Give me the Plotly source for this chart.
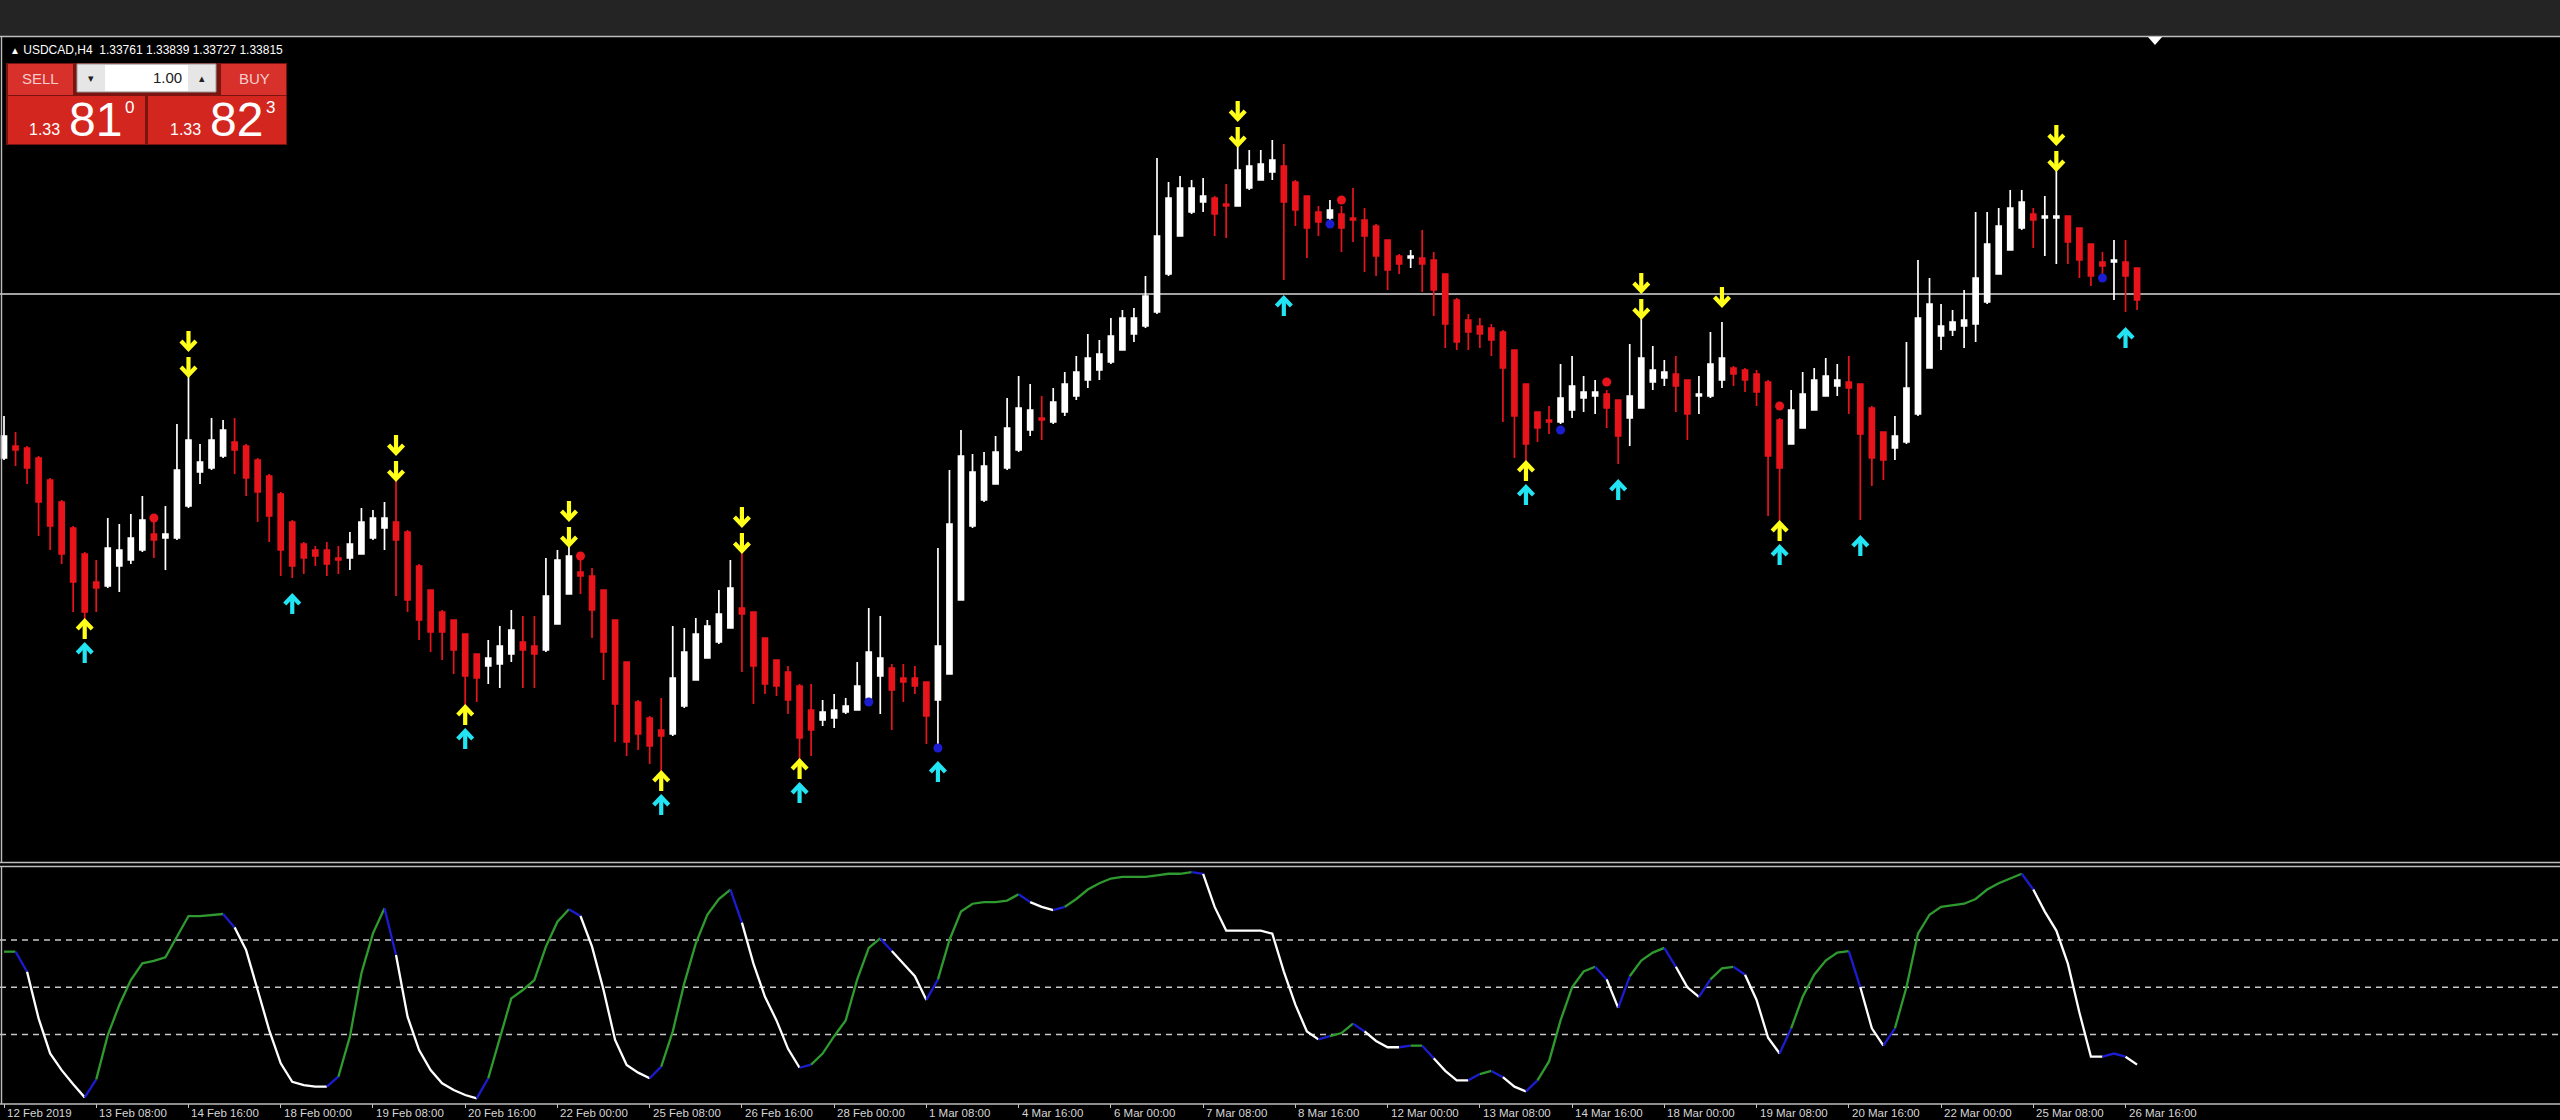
import numpy as np
import plotly.graph_objects as go

W, H = 2560, 1120

# ---------------- data ----------------
symbol_header = "USDCAD,H4\u00a0\u00a01.33761 1.33839 1.33727 1.33815"
sell_price = ("1.33", "81", "0")
buy_price = ("1.33", "82", "3")
lot_size = "1.00"
bid_level = 1.3381

tick_bars = [0, 8, 16, 24, 32, 40, 48, 56, 64, 72, 80, 88, 96, 104, 112, 120,
             128, 136, 144, 152, 160, 168, 176, 184]
tick_labels = ["12 Feb 2019", "13 Feb 08:00", "14 Feb 16:00", "18 Feb 00:00", "19 Feb 08:00",
               "20 Feb 16:00", "22 Feb 00:00", "25 Feb 08:00", "26 Feb 16:00", "28 Feb 00:00",
               "1 Mar 08:00", "4 Mar 16:00", "6 Mar 00:00", "7 Mar 08:00", "8 Mar 16:00",
               "12 Mar 00:00", "13 Mar 08:00", "14 Mar 16:00", "18 Mar 00:00", "19 Mar 08:00",
               "20 Mar 16:00", "22 Mar 00:00", "25 Mar 08:00", "26 Mar 16:00"]

# prices in pips (1.xxxx * 10000)
opens = [13299,13305,13304,13299,13288,13277,13264,13251,13237,13235,
 13245,13248,13253,13261,13259,13259,13275,13292,13294,13300,
 13307,13305,13298,13290,13281,13267,13256,13253,13253,13249,
 13249,13251,13259,13264,13267,13262,13245,13233,13222,13218,
 13211,13201,13195,13196,13201,13207,13205,13203,13216,13231,
 13242,13240,13233,13218,13197,13177,13169,13163,13161,13175,
 13188,13199,13207,13214,13224,13222,13209,13198,13192,13185,
 13173,13168,13169,13172,13173,13179,13190,13194,13189,13189,
 13187,13178,13191,13228,13265,13278,13286,13294,13303,13313,
 13319,13317,13322,13330,13338,13343,13347,13353,13361,13365,
 13372,13391,13410,13422,13427,13429,13426,13425,13434,13438,
 13442,13445,13437,13430,13422,13419,13421,13419,13418,13415,
 13408,13400,13399,13399,13398,13391,13378,13368,13365,13364,
 13362,13353,13336,13322,13318,13317,13323,13329,13330,13331,
 13328,13319,13324,13337,13339,13341,13338,13330,13330,13338,
 13344,13343,13341,13337,13318,13306,13314,13323,13330,13335,
 13337,13336,13324,13312,13304,13307,13321,13344,13360,13363,
 13365,13366,13377,13391,13403,13414,13421,13419,13419,13420,
 13414,13406,13397,13397,13397,13394]
highs = [13320,13312,13305,13300,13289,13278,13265,13252,13248,13269,
 13266,13271,13280,13270,13275,13316,13340,13306,13319,13318,
 13319,13306,13299,13291,13282,13268,13257,13255,13257,13255,
 13262,13274,13273,13277,13288,13263,13246,13233,13223,13218,
 13211,13201,13208,13215,13223,13220,13220,13249,13253,13255,
 13248,13244,13233,13218,13197,13178,13170,13179,13215,13214,
 13219,13218,13233,13248,13252,13222,13209,13198,13195,13186,
 13186,13178,13181,13179,13197,13224,13220,13196,13196,13195,
 13187,13254,13293,13313,13301,13302,13310,13329,13340,13336,
 13330,13334,13342,13350,13361,13358,13369,13373,13374,13390,
 13449,13437,13440,13438,13439,13430,13436,13455,13453,13453,
 13458,13456,13438,13430,13425,13428,13425,13434,13424,13416,
 13408,13401,13403,13413,13402,13391,13379,13371,13369,13366,
 13363,13353,13336,13322,13325,13346,13350,13340,13338,13333,
 13328,13356,13369,13355,13348,13350,13338,13340,13362,13367,
 13345,13344,13343,13338,13319,13333,13342,13344,13349,13346,
 13350,13336,13325,13312,13320,13357,13398,13389,13376,13373,
 13383,13422,13422,13424,13433,13433,13424,13430,13443,13420,
 13414,13406,13402,13408,13408,13394]
lows = [13298,13295,13286,13260,13253,13246,13222,13218,13222,13234,
 13232,13246,13252,13249,13243,13258,13274,13286,13293,13299,
 13291,13280,13267,13257,13240,13239,13241,13245,13240,13241,
 13243,13251,13258,13253,13230,13222,13208,13202,13198,13191,
 13175,13177,13186,13184,13197,13184,13184,13202,13216,13231,
 13231,13209,13188,13157,13150,13153,13146,13142,13160,13174,
 13188,13199,13206,13214,13192,13176,13181,13180,13171,13148,
 13150,13165,13164,13171,13173,13176,13171,13163,13177,13181,
 13156,13155,13191,13228,13264,13277,13286,13293,13302,13310,
 13308,13316,13320,13328,13334,13338,13346,13353,13357,13364,
 13371,13390,13410,13421,13422,13410,13409,13425,13433,13438,
 13438,13388,13415,13399,13410,13416,13402,13407,13392,13390,
 13383,13391,13394,13382,13370,13354,13353,13353,13354,13350,
 13317,13299,13297,13307,13311,13316,13319,13322,13321,13314,
 13296,13305,13324,13333,13335,13322,13308,13321,13329,13334,
 13335,13332,13325,13270,13267,13306,13314,13323,13330,13330,
 13321,13268,13285,13288,13298,13306,13320,13344,13353,13360,
 13354,13357,13376,13391,13403,13413,13404,13400,13396,13396,
 13389,13385,13391,13378,13372,13373]
closes = [13310,13303,13294,13277,13265,13251,13237,13222,13234,13254,
 13253,13259,13268,13258,13261,13293,13308,13297,13308,13313,
 13303,13289,13282,13270,13253,13245,13249,13250,13246,13248,
 13256,13267,13269,13269,13258,13228,13218,13212,13212,13203,
 13190,13189,13199,13205,13213,13203,13201,13230,13248,13250,
 13240,13223,13202,13176,13157,13161,13155,13160,13189,13202,
 13211,13215,13221,13234,13221,13195,13186,13185,13178,13159,
 13163,13172,13173,13175,13185,13202,13199,13183,13187,13185,
 13170,13205,13266,13300,13292,13295,13302,13314,13324,13323,
 13318,13327,13336,13342,13349,13351,13360,13369,13369,13380,
 13410,13429,13434,13434,13430,13421,13425,13443,13445,13446,
 13448,13427,13423,13414,13417,13423,13414,13418,13410,13400,
 13393,13396,13400,13396,13383,13366,13357,13362,13361,13358,
 13344,13320,13306,13314,13317,13329,13335,13332,13332,13324,
 13310,13330,13349,13343,13342,13335,13321,13331,13346,13349,
 13341,13338,13332,13300,13294,13323,13331,13338,13340,13338,
 13334,13311,13299,13298,13310,13334,13369,13376,13365,13367,
 13368,13389,13406,13415,13424,13427,13418,13420,13420,13407,
 13398,13390,13395,13398,13390,13378]

# signal arrows (bar indices)
sell_near_bars = [16, 34, 49, 64, 107, 142, 178]
sell_far_bars = [16, 34, 49, 64, 107, 142, 149, 178]
buy_near_bars = [7, 40, 57, 69, 132, 154]
buy_far_bars = [7, 25, 40, 57, 69, 81, 111, 132, 140, 154, 161, 184]
red_dot_bars = [13, 50, 116, 139, 154]
red_dot_pips = [13269, 13250, 13428, 13337, 13325]
blue_dot_bars = [75, 81, 115, 135, 182]
blue_dot_pips = [13177, 13154, 13416, 13313, 13389]

# oscillator (sub window)
osc = [72.6,72.6,59.9,30.3,8.1,-2.5,-11.5,-19.8,-8.4,19.7,
 38.8,54.6,65.2,66.7,69,81.7,95.2,95.2,95.8,96.5,
 88,73.6,48.3,22.9,1.8,-9.9,-12,-13,-13,-6.7,
 18.7,58.9,84.2,100.1,70.5,31.4,10.2,-2.5,-10.9,-15.1,
 -18.3,-20.4,-7.7,17.6,43,48.3,54.6,75.8,91.6,99.5,
 95.2,75.8,48.3,16.6,0.7,-4.1,-7.7,-0.3,21.9,52.5,
 77.9,96,106,112,91,65,44,29,11,-1,
 1,8,19,29,55,75,81,73,65,57,
 42,55,80,98,103,104,104,105,109,104,
 101,99,101,106,112,116,119,120,120,120,
 121,122,122,123,122,101,86,86,86,86,
 84,60,39,22,17,19,21,27,22,16,
 12,12,13,13,5,-3,-9,-9,-5,-3,
 -7,-13,-16,-9,3,29,50,60,63,55,
 37,57,67,72,75,63,50,44,55,62,
 63,58,42,18,8,24,44,58,67,72,
 73,50,24,13,24,50,84,96,101,102,
 103,106,112,116,119,122,112,98,86,65,
 34,6,6,8,6,1]
osc_levels = [20, 50, 80]

# ---------------- styles ----------------
BULL = "#ffffff"
BEAR = "#e8141b"
YELLOW = "#ffff1a"
CYAN = "#22e4f2"
GREEN = "#2f9a2f"
OSC_WHITE = "#ffffff"
OSC_BLUE = "#1c1cd0"
FRAME = "#bdbdbd"
BTN_RED = "#d8302a"
BOX_RED = "#d3261e"

BAR0_PX, BAR_PX = 4.0, 11.53
X_RANGE = [(0 - BAR0_PX) / BAR_PX, (W - BAR0_PX) / BAR_PX]
MAIN_TOP, MAIN_BOT = 37, 862
SUB_TOP, SUB_BOT = 867, 1103
PIP = 1e-4
Y_PER_PX = 0.5 * PIP          # price per pixel in the main window
Y_AT_0 = bid_level + 294 * Y_PER_PX
Y_RANGE = [Y_AT_0 - MAIN_BOT * Y_PER_PX, Y_AT_0 - MAIN_TOP * Y_PER_PX]
OSC_PER_PX = 1 / 1.577
Y2_RANGE = [80 - (SUB_BOT - 940) * OSC_PER_PX, 80 - (SUB_TOP - 940) * OSC_PER_PX]


def px(x):
    return x / W


def py(y):
    return 1 - y / H


bars = list(range(len(opens)))
o = np.array(opens) / 1e4
h = np.array(highs) / 1e4
l = np.array(lows) / 1e4
c = np.array(closes) / 1e4

fig = go.Figure()

fig.add_trace(go.Candlestick(
    x=bars, open=o, high=h, low=l, close=c,
    increasing=dict(line=dict(color=BULL, width=1.7), fillcolor=BULL),
    decreasing=dict(line=dict(color=BEAR, width=1.7), fillcolor=BEAR),
    whiskerwidth=0, hoverinfo="skip", showlegend=False,
    xaxis="x", yaxis="y"))

fig.add_trace(go.Scatter(x=red_dot_bars, y=np.array(red_dot_pips) / 1e4, mode="markers",
                         marker=dict(color=BEAR, size=9), hoverinfo="skip", showlegend=False))
fig.add_trace(go.Scatter(x=blue_dot_bars, y=np.array(blue_dot_pips) / 1e4, mode="markers",
                         marker=dict(color=OSC_BLUE, size=9), hoverinfo="skip", showlegend=False))

# arrow glyph geometry (pixels)
ARROW_LEN = 18 * Y_PER_PX
ARM_BACK = 8 * Y_PER_PX
ARM_HALF = 7.5 / BAR_PX


def arrow_trace(bar_list, tips, direction, color):
    """direction=-1: arrow points down (tip at bottom); +1 points up."""
    xs, ys = [], []
    for b, t in zip(bar_list, tips):
        tail = t - direction * ARROW_LEN
        arm = t - direction * ARM_BACK
        xs += [b, b, None, b - ARM_HALF, b, b + ARM_HALF, None]
        ys += [tail, t, None, arm, t, arm, None]
    return go.Scatter(x=xs, y=ys, mode="lines", line=dict(color=color, width=4.2),
                      hoverinfo="skip", showlegend=False)


near_tip_dn = [h[b] + 1 * Y_PER_PX for b in sell_near_bars]
far_tip_dn = [h[b] + (27 if b in sell_near_bars else 17) * Y_PER_PX for b in sell_far_bars]
near_tip_up = [l[b] - 1 * Y_PER_PX for b in buy_near_bars]
far_tip_up = [l[b] - (25 if b in buy_near_bars else 18) * Y_PER_PX for b in buy_far_bars]

fig.add_trace(arrow_trace(sell_near_bars, near_tip_dn, -1, YELLOW))
fig.add_trace(arrow_trace(sell_far_bars, far_tip_dn, -1, YELLOW))
fig.add_trace(arrow_trace(buy_near_bars, near_tip_up, 1, YELLOW))
fig.add_trace(arrow_trace(buy_far_bars, far_tip_up, 1, CYAN))

# oscillator coloured segments
osc_arr = np.array(osc, dtype=float)
dirs = []
prev = 1
for d in np.diff(osc_arr):
    cur = prev if abs(d) < 0.3 else (1 if d > 0 else -1)
    dirs.append(cur)
    prev = cur
seg_cols = []
for k, cur in enumerate(dirs):
    if k > 0 and cur != dirs[k - 1]:
        seg_cols.append(OSC_BLUE)
    else:
        seg_cols.append(GREEN if cur > 0 else OSC_WHITE)
start = 0
for k in range(1, len(seg_cols) + 1):
    if k == len(seg_cols) or seg_cols[k] != seg_cols[start]:
        fig.add_trace(go.Scatter(x=bars[start:k + 1], y=osc_arr[start:k + 1], mode="lines",
                                 line=dict(color=seg_cols[start], width=2.3),
                                 xaxis="x2", yaxis="y2", hoverinfo="skip", showlegend=False))
        start = k

shapes = []
shapes.append(dict(type="rect", xref="paper", yref="paper", x0=0, x1=1, y0=py(0), y1=py(36),
                   fillcolor="#242424", line=dict(width=0), layer="below"))
for yy in (36.5, 862.5, 866.5, 1104):
    shapes.append(dict(type="line", xref="paper", yref="paper", x0=0, x1=1, y0=py(yy), y1=py(yy),
                       line=dict(color=FRAME, width=1.4)))
shapes.append(dict(type="line", xref="paper", yref="paper", x0=px(1.5), x1=px(1.5),
                   y0=py(36.5), y1=py(862.5), line=dict(color=FRAME, width=1.4)))
shapes.append(dict(type="line", xref="paper", yref="paper", x0=px(1.5), x1=px(1.5),
                   y0=py(866.5), y1=py(1104), line=dict(color=FRAME, width=1.4)))
shapes.append(dict(type="line", xref="paper", yref="y", x0=0, x1=1, y0=bid_level, y1=bid_level,
                   line=dict(color="#d8d8d8", width=1.6), layer="below"))
for lv in osc_levels:
    shapes.append(dict(type="line", xref="paper", yref="y2", x0=0, x1=1, y0=lv, y1=lv,
                       line=dict(color="#c8c8c8", width=1.5, dash="6px,5px"), layer="below"))
tx = 2155
shapes.append(dict(type="path", xref="paper", yref="paper",
                   path=f"M {px(tx-7)},{py(37)} L {px(tx+7)},{py(37)} L {px(tx)},{py(45)} Z",
                   fillcolor="#ffffff", line=dict(width=0)))


def rect(x0, y0, x1, y1, fill, lc=None, lw=0):
    shapes.append(dict(type="rect", xref="paper", yref="paper", x0=px(x0), x1=px(x1),
                       y0=py(y1), y1=py(y0), fillcolor=fill,
                       line=dict(color=lc or fill, width=lw)))


rect(6, 63, 287, 145, "#7a1410")
rect(8, 64, 73, 95, BTN_RED)
rect(221, 64, 286, 95, BTN_RED)
rect(77, 64, 216, 92, "#e6e6e6", "#9a9a9a", 1)
rect(105, 65, 188, 91, "#ffffff")
rect(8, 96, 145, 144, BOX_RED)
rect(148, 96, 286, 144, BOX_RED)

annotations = []


def txt(x, y, s, size, color, xanchor="left", yanchor="middle", family="Liberation Sans"):
    annotations.append(dict(x=px(x), y=py(y), xref="paper", yref="paper", text=s, showarrow=False,
                            xanchor=xanchor, yanchor=yanchor,
                            font=dict(size=size, color=color, family=family)))


txt(8, 50, "<span style='font-size:10px'>▲</span> " + symbol_header, 12, "#ffffff")
txt(40, 79, "SELL", 15, "#f6cdcd", xanchor="center")
txt(254, 79, "BUY", 15, "#f6cdcd", xanchor="center")
txt(184, 78, lot_size, 15, "#202020", xanchor="right")
txt(91, 78, "▾", 11, "#202020", xanchor="center")
txt(202, 78, "▴", 11, "#202020", xanchor="center")
for x0, parts in ((27, sell_price), (168, buy_price)):
    txt(x0, 129, parts[0], 16, "#ffffff")
    txt(x0 + 40, 120, parts[1], 48, "#ffffff")
    txt(x0 + 96, 108, parts[2], 17, "#ffffff")

for b, lab in zip(tick_bars, tick_labels):
    annotations.append(dict(x=b, y=py(1104.5), xref="x2", yref="paper", text=lab, showarrow=False,
                            xanchor="left", yanchor="top", xshift=1,
                            font=dict(size=11.5, color="#d6d6d6", family="Liberation Sans")))

fig.update_layout(
    width=W, height=H, margin=dict(l=0, r=0, t=0, b=0),
    paper_bgcolor="#000000", plot_bgcolor="#000000",
    showlegend=False, boxgap=0.38, hovermode=False,
    xaxis=dict(domain=[0, 1], range=X_RANGE, visible=False, rangeslider=dict(visible=False),
               anchor="y"),
    yaxis=dict(domain=[py(MAIN_BOT), py(MAIN_TOP)], range=Y_RANGE, visible=False, anchor="x"),
    xaxis2=dict(domain=[0, 1], range=X_RANGE, anchor="y2", showticklabels=False, showgrid=False,
                zeroline=False, showline=False, ticks="outside", ticklen=4, tickwidth=1.2,
                tickcolor="#c0c0c0", tickmode="array", tickvals=tick_bars),
    yaxis2=dict(domain=[py(SUB_BOT), py(SUB_TOP)], range=Y2_RANGE, visible=False, anchor="x2"),
    shapes=shapes, annotations=annotations,
)

fig.write_html("out.html", config={"displayModeBar": False},
               post_script="document.body.style.margin='0';document.body.style.overflow='hidden';")
